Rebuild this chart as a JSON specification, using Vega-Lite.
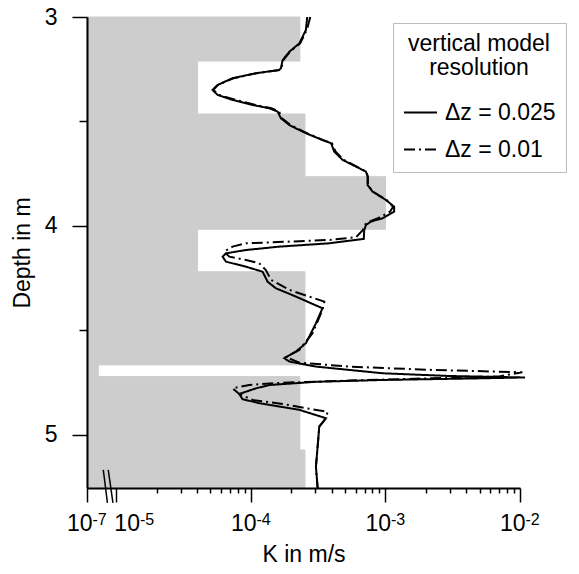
{
  "$schema": "https://vega.github.io/schema/vega-lite/v6.json",
  "width": 433,
  "height": 471,
  "autosize": {"type": "none"},
  "padding": {"left": 87, "top": 17, "right": 59, "bottom": 86},
  "background": "white",
  "config": {
    "font": "Liberation Sans",
    "view": {"stroke": null},
    "axis": {
      "grid": false,
      "domainColor": "black",
      "domainWidth": 2,
      "tickColor": "black",
      "tickWidth": 1.5,
      "labelColor": "black",
      "titleColor": "black",
      "labelFontSize": 23,
      "titleFontSize": 23,
      "titleFontWeight": "normal",
      "labelOverlap": false,
      "labelFlush": false,
      "labelBound": false
    }
  },
  "resolve": {"axis": {"x": "independent"}},
  "datasets": {
    "layers": [
      {"top": 3.000, "bottom": 3.211, "K": 2.31e-4},
      {"top": 3.211, "bottom": 3.464, "K": 4.01e-5},
      {"top": 3.464, "bottom": 3.764, "K": 2.52e-4},
      {"top": 3.764, "bottom": 4.016, "K": 1.0e-3},
      {"top": 4.016, "bottom": 4.219, "K": 4.01e-5},
      {"top": 4.219, "bottom": 4.665, "K": 2.52e-4},
      {"top": 4.665, "bottom": 4.721, "K": 7.33e-6},
      {"top": 4.721, "bottom": 5.072, "K": 2.31e-4},
      {"top": 5.072, "bottom": 5.254, "K": 2.52e-4}
    ],
    "breaks": [
      {"Ka": 7.98e-6, "Kb": 8.57e-6, "da": 5.167, "db": 5.325},
      {"Ka": 8.69e-6, "Kb": 9.42e-6, "da": 5.167, "db": 5.325}
    ],
    "profile": [
      {"model": "Δz = 0.025", "depth": 3.000, "K": 2.62e-4},
      {"model": "Δz = 0.025", "depth": 3.062, "K": 2.56e-4},
      {"model": "Δz = 0.025", "depth": 3.126, "K": 2.29e-4},
      {"model": "Δz = 0.025", "depth": 3.166, "K": 1.93e-4},
      {"model": "Δz = 0.025", "depth": 3.206, "K": 1.72e-4},
      {"model": "Δz = 0.025", "depth": 3.245, "K": 1.67e-4},
      {"model": "Δz = 0.025", "depth": 3.254, "K": 1.62e-4},
      {"model": "Δz = 0.025", "depth": 3.269, "K": 1.09e-4},
      {"model": "Δz = 0.025", "depth": 3.293, "K": 7.30e-5},
      {"model": "Δz = 0.025", "depth": 3.325, "K": 5.65e-5},
      {"model": "Δz = 0.025", "depth": 3.349, "K": 5.18e-5},
      {"model": "Δz = 0.025", "depth": 3.373, "K": 5.65e-5},
      {"model": "Δz = 0.025", "depth": 3.397, "K": 7.30e-5},
      {"model": "Δz = 0.025", "depth": 3.421, "K": 1.03e-4},
      {"model": "Δz = 0.025", "depth": 3.437, "K": 1.37e-4},
      {"model": "Δz = 0.025", "depth": 3.453, "K": 1.58e-4},
      {"model": "Δz = 0.025", "depth": 3.485, "K": 1.67e-4},
      {"model": "Δz = 0.025", "depth": 3.517, "K": 1.93e-4},
      {"model": "Δz = 0.025", "depth": 3.533, "K": 2.16e-4},
      {"model": "Δz = 0.025", "depth": 3.556, "K": 2.56e-4},
      {"model": "Δz = 0.025", "depth": 3.589, "K": 3.40e-4},
      {"model": "Δz = 0.025", "depth": 3.604, "K": 3.94e-4},
      {"model": "Δz = 0.025", "depth": 3.644, "K": 4.16e-4},
      {"model": "Δz = 0.025", "depth": 3.684, "K": 4.80e-4},
      {"model": "Δz = 0.025", "depth": 3.716, "K": 6.04e-4},
      {"model": "Δz = 0.025", "depth": 3.740, "K": 7.16e-4},
      {"model": "Δz = 0.025", "depth": 3.764, "K": 7.36e-4},
      {"model": "Δz = 0.025", "depth": 3.804, "K": 7.36e-4},
      {"model": "Δz = 0.025", "depth": 3.836, "K": 8.02e-4},
      {"model": "Δz = 0.025", "depth": 3.876, "K": 1.01e-3},
      {"model": "Δz = 0.025", "depth": 3.908, "K": 1.16e-3},
      {"model": "Δz = 0.025", "depth": 3.932, "K": 1.16e-3},
      {"model": "Δz = 0.025", "depth": 3.963, "K": 9.51e-4},
      {"model": "Δz = 0.025", "depth": 3.979, "K": 7.80e-4},
      {"model": "Δz = 0.025", "depth": 3.995, "K": 7.16e-4},
      {"model": "Δz = 0.025", "depth": 4.019, "K": 6.95e-4},
      {"model": "Δz = 0.025", "depth": 4.062, "K": 6.90e-4},
      {"model": "Δz = 0.025", "depth": 4.083, "K": 3.82e-4},
      {"model": "Δz = 0.025", "depth": 4.099, "K": 1.62e-4},
      {"model": "Δz = 0.025", "depth": 4.115, "K": 9.18e-5},
      {"model": "Δz = 0.025", "depth": 4.131, "K": 6.52e-5},
      {"model": "Δz = 0.025", "depth": 4.147, "K": 6.15e-5},
      {"model": "Δz = 0.025", "depth": 4.171, "K": 6.52e-5},
      {"model": "Δz = 0.025", "depth": 4.195, "K": 9.18e-5},
      {"model": "Δz = 0.025", "depth": 4.219, "K": 1.22e-4},
      {"model": "Δz = 0.025", "depth": 4.267, "K": 1.33e-4},
      {"model": "Δz = 0.025", "depth": 4.298, "K": 1.53e-4},
      {"model": "Δz = 0.025", "depth": 4.338, "K": 2.16e-4},
      {"model": "Δz = 0.025", "depth": 4.394, "K": 3.40e-4},
      {"model": "Δz = 0.025", "depth": 4.466, "K": 3.04e-4},
      {"model": "Δz = 0.025", "depth": 4.561, "K": 2.56e-4},
      {"model": "Δz = 0.025", "depth": 4.601, "K": 2.16e-4},
      {"model": "Δz = 0.025", "depth": 4.633, "K": 1.77e-4},
      {"model": "Δz = 0.025", "depth": 4.649, "K": 1.93e-4},
      {"model": "Δz = 0.025", "depth": 4.673, "K": 3.04e-4},
      {"model": "Δz = 0.025", "depth": 4.705, "K": 9.51e-4},
      {"model": "Δz = 0.025", "depth": 4.718, "K": 2.98e-3},
      {"model": "Δz = 0.025", "depth": 4.725, "K": 1.09e-2},
      {"model": "Δz = 0.025", "depth": 4.729, "K": 5.27e-3},
      {"model": "Δz = 0.025", "depth": 4.737, "K": 9.51e-4},
      {"model": "Δz = 0.025", "depth": 4.746, "K": 3.00e-4},
      {"model": "Δz = 0.025", "depth": 4.753, "K": 2.10e-4},
      {"model": "Δz = 0.025", "depth": 4.761, "K": 1.37e-4},
      {"model": "Δz = 0.025", "depth": 4.777, "K": 1.09e-4},
      {"model": "Δz = 0.025", "depth": 4.804, "K": 8.18e-5},
      {"model": "Δz = 0.025", "depth": 4.829, "K": 8.66e-5},
      {"model": "Δz = 0.025", "depth": 4.848, "K": 1.15e-4},
      {"model": "Δz = 0.025", "depth": 4.880, "K": 2.29e-4},
      {"model": "Δz = 0.025", "depth": 4.920, "K": 3.61e-4},
      {"model": "Δz = 0.025", "depth": 4.960, "K": 3.22e-4},
      {"model": "Δz = 0.025", "depth": 5.056, "K": 3.13e-4},
      {"model": "Δz = 0.025", "depth": 5.152, "K": 3.04e-4},
      {"model": "Δz = 0.025", "depth": 5.254, "K": 3.13e-4},
      {"model": "Δz = 0.01", "depth": 3.000, "K": 2.76e-4},
      {"model": "Δz = 0.01", "depth": 3.062, "K": 2.60e-4},
      {"model": "Δz = 0.01", "depth": 3.126, "K": 2.32e-4},
      {"model": "Δz = 0.01", "depth": 3.166, "K": 1.95e-4},
      {"model": "Δz = 0.01", "depth": 3.206, "K": 1.74e-4},
      {"model": "Δz = 0.01", "depth": 3.245, "K": 1.68e-4},
      {"model": "Δz = 0.01", "depth": 3.254, "K": 1.62e-4},
      {"model": "Δz = 0.01", "depth": 3.269, "K": 1.10e-4},
      {"model": "Δz = 0.01", "depth": 3.293, "K": 7.40e-5},
      {"model": "Δz = 0.01", "depth": 3.325, "K": 5.70e-5},
      {"model": "Δz = 0.01", "depth": 3.349, "K": 5.25e-5},
      {"model": "Δz = 0.01", "depth": 3.373, "K": 5.80e-5},
      {"model": "Δz = 0.01", "depth": 3.397, "K": 7.70e-5},
      {"model": "Δz = 0.01", "depth": 3.421, "K": 1.09e-4},
      {"model": "Δz = 0.01", "depth": 3.437, "K": 1.42e-4},
      {"model": "Δz = 0.01", "depth": 3.453, "K": 1.62e-4},
      {"model": "Δz = 0.01", "depth": 3.485, "K": 1.70e-4},
      {"model": "Δz = 0.01", "depth": 3.517, "K": 1.97e-4},
      {"model": "Δz = 0.01", "depth": 3.533, "K": 2.20e-4},
      {"model": "Δz = 0.01", "depth": 3.556, "K": 2.60e-4},
      {"model": "Δz = 0.01", "depth": 3.589, "K": 3.45e-4},
      {"model": "Δz = 0.01", "depth": 3.604, "K": 4.00e-4},
      {"model": "Δz = 0.01", "depth": 3.644, "K": 4.25e-4},
      {"model": "Δz = 0.01", "depth": 3.684, "K": 4.90e-4},
      {"model": "Δz = 0.01", "depth": 3.716, "K": 6.10e-4},
      {"model": "Δz = 0.01", "depth": 3.740, "K": 7.20e-4},
      {"model": "Δz = 0.01", "depth": 3.764, "K": 7.40e-4},
      {"model": "Δz = 0.01", "depth": 3.804, "K": 7.40e-4},
      {"model": "Δz = 0.01", "depth": 3.836, "K": 8.10e-4},
      {"model": "Δz = 0.01", "depth": 3.876, "K": 1.02e-3},
      {"model": "Δz = 0.01", "depth": 3.908, "K": 1.14e-3},
      {"model": "Δz = 0.01", "depth": 3.932, "K": 1.08e-3},
      {"model": "Δz = 0.01", "depth": 3.963, "K": 8.80e-4},
      {"model": "Δz = 0.01", "depth": 3.979, "K": 7.60e-4},
      {"model": "Δz = 0.01", "depth": 3.995, "K": 7.00e-4},
      {"model": "Δz = 0.01", "depth": 4.019, "K": 6.80e-4},
      {"model": "Δz = 0.01", "depth": 4.054, "K": 6.04e-4},
      {"model": "Δz = 0.01", "depth": 4.067, "K": 3.82e-4},
      {"model": "Δz = 0.01", "depth": 4.083, "K": 9.18e-5},
      {"model": "Δz = 0.01", "depth": 4.099, "K": 7.30e-5},
      {"model": "Δz = 0.01", "depth": 4.123, "K": 6.33e-5},
      {"model": "Δz = 0.01", "depth": 4.147, "K": 6.90e-5},
      {"model": "Δz = 0.01", "depth": 4.163, "K": 9.18e-5},
      {"model": "Δz = 0.01", "depth": 4.178, "K": 1.15e-4},
      {"model": "Δz = 0.01", "depth": 4.211, "K": 1.29e-4},
      {"model": "Δz = 0.01", "depth": 4.258, "K": 1.41e-4},
      {"model": "Δz = 0.01", "depth": 4.306, "K": 1.93e-4},
      {"model": "Δz = 0.01", "depth": 4.362, "K": 3.51e-4},
      {"model": "Δz = 0.01", "depth": 4.402, "K": 3.40e-4},
      {"model": "Δz = 0.01", "depth": 4.513, "K": 2.87e-4},
      {"model": "Δz = 0.01", "depth": 4.593, "K": 2.29e-4},
      {"model": "Δz = 0.01", "depth": 4.628, "K": 1.82e-4},
      {"model": "Δz = 0.01", "depth": 4.654, "K": 2.29e-4},
      {"model": "Δz = 0.01", "depth": 4.673, "K": 5.38e-4},
      {"model": "Δz = 0.01", "depth": 4.689, "K": 2.23e-3},
      {"model": "Δz = 0.01", "depth": 4.700, "K": 1.04e-2},
      {"model": "Δz = 0.01", "depth": 4.720, "K": 7.01e-3},
      {"model": "Δz = 0.01", "depth": 4.740, "K": 5.38e-4},
      {"model": "Δz = 0.01", "depth": 4.750, "K": 1.71e-4},
      {"model": "Δz = 0.01", "depth": 4.761, "K": 9.71e-5},
      {"model": "Δz = 0.01", "depth": 4.777, "K": 7.30e-5},
      {"model": "Δz = 0.01", "depth": 4.804, "K": 8.18e-5},
      {"model": "Δz = 0.01", "depth": 4.833, "K": 1.03e-4},
      {"model": "Δz = 0.01", "depth": 4.852, "K": 1.72e-4},
      {"model": "Δz = 0.01", "depth": 4.890, "K": 3.71e-4},
      {"model": "Δz = 0.01", "depth": 4.920, "K": 3.61e-4},
      {"model": "Δz = 0.01", "depth": 4.960, "K": 3.22e-4},
      {"model": "Δz = 0.01", "depth": 5.056, "K": 3.13e-4},
      {"model": "Δz = 0.01", "depth": 5.152, "K": 3.04e-4},
      {"model": "Δz = 0.01", "depth": 5.254, "K": 3.13e-4}
    ]
  },
  "layer": [
    {
      "data": {"name": "layers"},
      "mark": {"type": "rect", "color": "#cdcdcd", "stroke": "#cdcdcd", "strokeWidth": 1},
      "encoding": {
        "x": {
          "field": "K",
          "type": "quantitative",
          "scale": {"type": "log", "domain": [6.04e-6, 0.01], "nice": false, "zero": false},
          "axis": {
            "orient": "bottom",
            "zindex": 2,
            "title": "K in m/s",
            "titlePadding": 8,
            "values": [6.04e-6, 1e-5, 1e-4, 1e-3, 1e-2],
            "labelExpr": "'10'",
            "tickSize": 14,
            "labelAlign": "right",
            "labelOffset": {"condition": {"test": "datum.value === 0.00001", "value": 23}, "value": 5},
            "labelPadding": 10
          }
        },
        "x2": {"datum": 6.04e-6},
        "y": {
          "field": "top",
          "type": "quantitative",
          "scale": {"domain": [3, 5.254], "reverse": true, "nice": false, "zero": false},
          "axis": {
            "zindex": 2,
            "title": "Depth in m",
            "titlePadding": 10,
            "values": [3, 3.5, 4, 4.5, 5],
            "labelExpr": "datum.value % 1 === 0 ? format(datum.value, 'd') : ''",
            "tickSize": {"condition": {"test": "datum.value % 1 === 0", "value": 15}, "value": 8},
            "labelPadding": 15
          }
        },
        "y2": {"field": "bottom"}
      }
    },
    {
      "data": {"name": "breaks"},
      "mark": {"type": "rule", "color": "black", "strokeWidth": 1.5, "clip": false},
      "encoding": {
        "x": {
          "field": "Ka",
          "type": "quantitative",
          "axis": {
            "orient": "bottom",
            "zindex": 2,
            "title": null,
            "domain": false,
            "labels": false,
            "tickSize": 5,
            "values": [2e-5, 3e-5, 4e-5, 5e-5, 6e-5, 7e-5, 8e-5, 9e-5, 2e-4, 3e-4, 4e-4, 5e-4, 6e-4, 7e-4, 8e-4, 9e-4, 2e-3, 3e-3, 4e-3, 5e-3, 6e-3, 7e-3, 8e-3, 9e-3]
          }
        },
        "x2": {"field": "Kb"},
        "y": {"field": "da", "type": "quantitative"},
        "y2": {"field": "db"}
      }
    },
    {
      "data": {"name": "profile"},
      "mark": {"type": "line", "color": "black", "strokeWidth": 2, "clip": false},
      "encoding": {
        "x": {
          "field": "K",
          "type": "quantitative",
          "axis": {
            "orient": "bottom",
            "title": null,
            "domain": false,
            "tickOpacity": 0,
            "values": [6.04e-6, 1e-5, 1e-4, 1e-3, 1e-2],
            "labelExpr": "datum.value < 8e-6 ? '-7' : datum.value === 0.00001 ? '-5' : datum.value === 0.0001 ? '-4' : datum.value === 0.001 ? '-3' : '-2'",
            "tickSize": 14,
            "labelFontSize": 16,
            "labelAlign": "left",
            "labelOffset": {"condition": {"test": "datum.value === 0.00001", "value": 23}, "value": 5},
            "labelPadding": 9
          }
        },
        "y": {"field": "depth", "type": "quantitative"},
        "order": {"field": "depth", "type": "quantitative"},
        "strokeDash": {
          "field": "model",
          "type": "nominal",
          "scale": {"domain": ["Δz = 0.025", "Δz = 0.01"], "range": [[1, 0], [11, 4, 2, 4]]},
          "legend": {
            "title": ["vertical model", "resolution"],
            "orient": "none",
            "legendX": 306,
            "legendY": 6,
            "strokeColor": "#bdbdbd",
            "fillColor": "white",
            "padding": 10,
            "titleFontSize": 23,
            "titleFontWeight": "normal",
            "titleColor": "black",
            "titleAnchor": "middle",
            "titleAlign": "center",
            "titleLineHeight": 24,
            "titlePadding": 15,
            "titleLimit": 400,
            "labelFontSize": 23,
            "labelColor": "black",
            "labelLimit": 400,
            "labelOffset": 7,
            "symbolType": "stroke",
            "symbolSize": 1089,
            "symbolStrokeWidth": 2,
            "symbolStrokeColor": "black",
            "rowPadding": 7
          }
        }
      }
    }
  ]
}
